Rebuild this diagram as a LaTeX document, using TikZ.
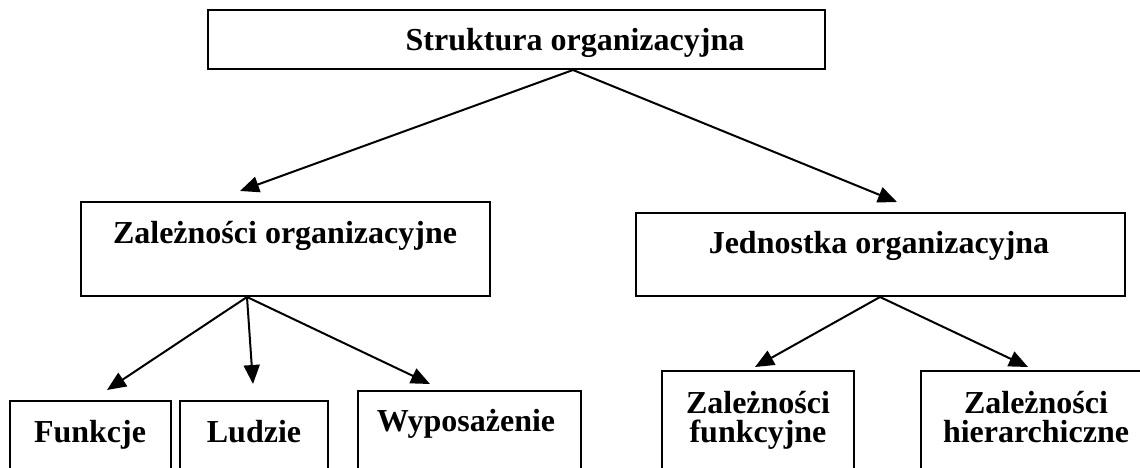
\documentclass[tikz,border=0pt]{standalone}
\usepackage{fontspec}
\setmainfont{Liberation Serif}
\usetikzlibrary{arrows.meta}
\begin{document}
\begin{tikzpicture}[x=1pt,y=-1pt,
  box/.style={draw=black, line width=2pt, rectangle, inner sep=0pt},
  txt/.style={font=\fontsize{32}{32}\selectfont\bfseries, inner sep=0pt, anchor=base},
  arr/.style={line width=2pt, -{Triangle[length=19pt,width=16pt]}}]
\useasboundingbox (0,0) rectangle (1140,468);
% boxes
\node[box, minimum width=617pt, minimum height=59pt] (top) at (516.5,39.5) {};
\node[box, minimum width=409pt, minimum height=94pt] (zo) at (285.5,249) {};
\node[box, minimum width=489pt, minimum height=83pt] (jo) at (880.5,254.5) {};
\node[box, minimum width=161pt, minimum height=79pt] (fu) at (90.5,440.5) {};
\node[box, minimum width=148pt, minimum height=79pt] (lu) at (254,440.5) {};
\node[box, minimum width=223pt, minimum height=89pt] (wy) at (469.5,435.5) {};
\node[box, minimum width=192pt, minimum height=109pt] (zf) at (758,425.5) {};
\node[box, minimum width=229pt, minimum height=109pt] (zh) at (1035.5,425.5) {};
% texts
\node[txt] (ttop) at (575,51) {Struktura organizacyjna};
\node[txt] (tzo) at (285,243) {Zależności organizacyjne};
\node[txt] (tjo) at (879,253) {Jednostka organizacyjna};
\node[txt] (tfu) at (90,442) {Funkcje};
\node[txt] (tlu) at (254,442) {Ludzie};
\node[txt] (twy) at (466,431) {Wyposażenie};
\node[txt] (tzf1) at (758,413) {Zależności};
\node[txt] (tzf2) at (758,442) {funkcyjne};
\node[txt] (tzh1) at (1036,413) {Zależności};
\node[txt] (tzh2) at (1036,442) {hierarchiczne};
% connector points
\coordinate (atop) at (top.south -| 573,0);
\coordinate (azo) at (zo.south -| 247,0);
\coordinate (ajo) at (jo.south -| 880,0);
\coordinate (pzo) at (240,191);
\coordinate (pjo) at (897,202);
\coordinate (pfu) at (107,390);
\coordinate (plu) at (253,384);
\coordinate (pwy) at (430,384);
\coordinate (pzf) at (755,367);
\coordinate (pzh) at (1028,367);
% connectors
\draw[arr] (atop) -- (pzo);
\draw[arr] (atop) -- (pjo);
\draw[arr] (azo) -- (pfu);
\draw[arr] (azo) -- (plu);
\draw[arr] (azo) -- (pwy);
\draw[arr] (ajo) -- (pzf);
\draw[arr] (ajo) -- (pzh);
\end{tikzpicture}
\end{document}
